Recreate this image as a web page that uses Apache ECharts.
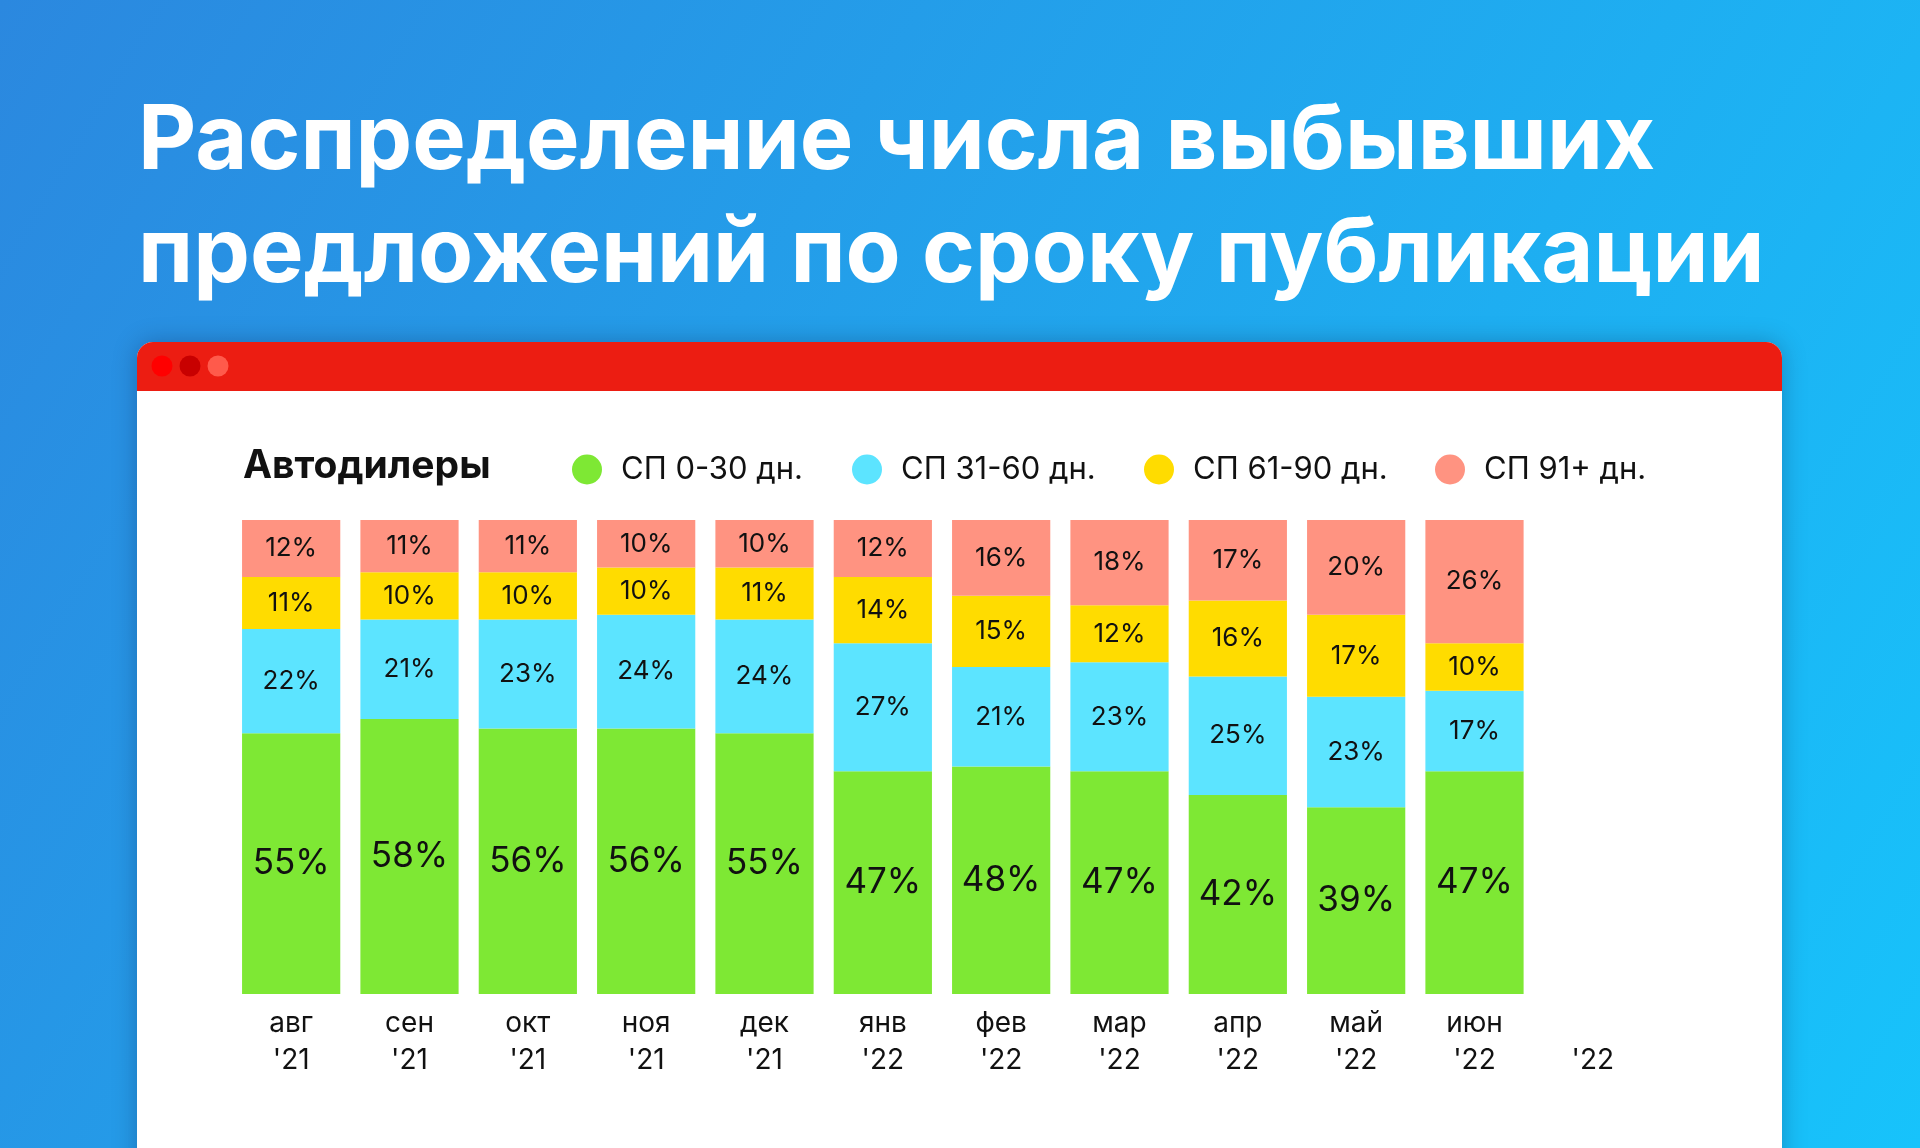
<!DOCTYPE html>
<html>
<head>
<meta charset="utf-8">
<script src="https://cdn.jsdelivr.net/npm/echarts@6/dist/echarts.min.js"></script>
<style>
  html, body { margin: 0; padding: 0; background: #2a8ce0; }
  #chart { width: 1920px; height: 1148px; }
</style>
</head>
<body>
<div id="chart"></div>
<script>
'use strict';

// Месяцы (ось X); последняя категория без столбца
const months = ["авг\n'21", "сен\n'21", "окт\n'21", "ноя\n'21", "дек\n'21", "янв\n'22",
  "фев\n'22", "мар\n'22", "апр\n'22", "май\n'22", "июн\n'22", "\n'22"];

const seriesNames = ['СП 0-30 дн.', 'СП 31-60 дн.', 'СП 61-90 дн.', 'СП 91+ дн.'];

// Доли, %
const sp0_30 = [55, 58, 56, 56, 55, 47, 48, 47, 42, 39.4, 47, null];
const sp31_60 = [22, 21, 23, 24, 24, 27, 21, 23, 25, 23.3, 17, null];
const sp61_90 = [11, 10, 10, 10, 11, 14, 15, 12, 16, 17.3, 10, null];
const sp91 = [12, 11, 11, 10, 10, 12, 16, 18, 17, 20, 26, null];

const colors = ['#7ee834', '#5ce4ff', '#ffdc00', '#ff9381'];
const legendLeft = [567, 847, 1139, 1430];

const FONT = 'Inter, "Noto Sans", sans-serif';

function barSeries(name, data, color, big) {
  return {
    name,
    type: 'bar',
    stack: 'total',
    data,
    barCategoryGap: '17%',
    itemStyle: { color },
    label: {
      show: true,
      position: 'inside',
      color: '#111',
      fontFamily: FONT,
      fontSize: big ? 35 : 26,
      formatter: (p) => (p.value == null ? '' : `${Math.round(p.value)}%`),
    },
    emphasis: { disabled: true },
  };
}

const chart = echarts.init(document.getElementById('chart'), null, { renderer: 'canvas' });

chart.setOption({
  animation: false,
  backgroundColor: {
    type: 'linear', x: 0, y: 0, x2: 1, y2: 1,
    colorStops: [{ offset: 0, color: '#2b88df' }, { offset: 1, color: '#17c3fb' }],
  },
  graphic: [
    // окно
    {
      type: 'rect', z: -10,
      shape: { x: 137, y: 342, width: 1645, height: 860, r: 16 },
      style: { fill: '#fff', shadowBlur: 24, shadowColor: 'rgba(0,0,40,0.25)' },
    },
    {
      type: 'rect', z: -9,
      shape: { x: 137, y: 342, width: 1645, height: 49, r: [16, 16, 0, 0] },
      style: { fill: '#ec1d12' },
    },
    { type: 'circle', z: -8, shape: { cx: 162, cy: 366, r: 10.5 }, style: { fill: '#ff0000' } },
    { type: 'circle', z: -8, shape: { cx: 190, cy: 366, r: 10.5 }, style: { fill: '#c80000' } },
    { type: 'circle', z: -8, shape: { cx: 218, cy: 366, r: 10.5 }, style: { fill: '#ff5a4b' } },
    // заголовок
    {
      type: 'text', left: 138, top: 85,
      style: {
        text: 'Распределение числа выбывших\nпредложений по сроку публикации',
        fill: '#fff', font: `700 90px ${FONT}`, lineHeight: 113,
      },
    },
    {
      type: 'text', left: 243, top: 447,
      style: { text: 'Автодилеры', fill: '#111', font: `700 39px ${FONT}` },
    },
  ],
  legend: seriesNames.map((n, i) => ({
    data: [n],
    left: legendLeft[i],
    top: 449,
    icon: 'circle',
    itemWidth: 30,
    itemHeight: 30,
    selectedMode: false,
    textStyle: { fontFamily: FONT, fontSize: 31, color: '#111', padding: [0, 0, 0, 14] },
  })),
  grid: { left: 232, width: 1420, top: 520, height: 474 },
  xAxis: {
    type: 'category',
    data: months,
    axisLine: { show: false },
    axisTick: { show: false },
    axisLabel: {
      margin: 11,
      color: '#111',
      fontFamily: FONT,
      fontSize: 28,
      lineHeight: 37,
      interval: 0,
    },
  },
  yAxis: { type: 'value', min: 0, max: 100, show: false },
  series: [
    barSeries(seriesNames[0], sp0_30, colors[0], true),
    barSeries(seriesNames[1], sp31_60, colors[1], false),
    barSeries(seriesNames[2], sp61_90, colors[2], false),
    barSeries(seriesNames[3], sp91, colors[3], false),
  ],
});
</script>
</body>
</html>
